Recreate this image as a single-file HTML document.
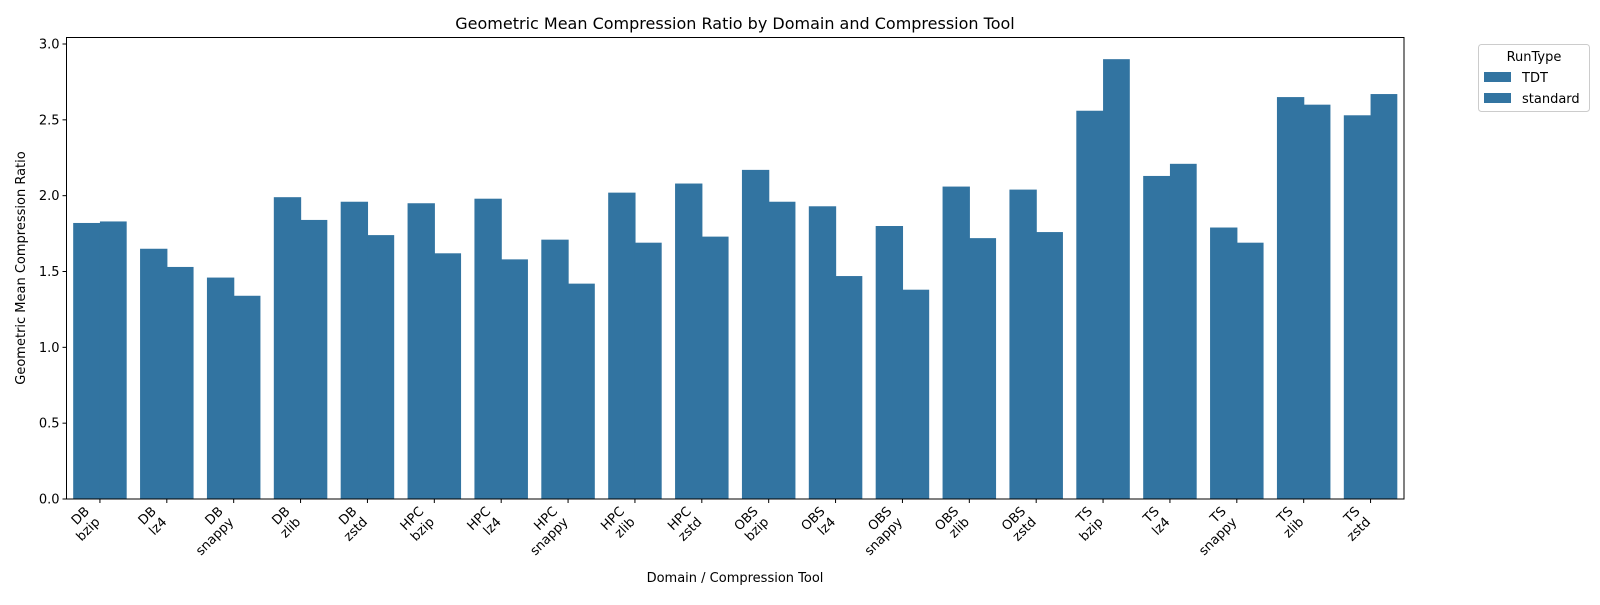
<!DOCTYPE html>
<html><head><meta charset="utf-8"><style>
body{margin:0;background:#fff;font-family:"Liberation Sans","DejaVu Sans",sans-serif;}
svg text{font-family:"DejaVu Sans","Liberation Sans",sans-serif;}
</style></head><body>
<svg id="chart" width="1600" height="600" xmlns="http://www.w3.org/2000/svg">
<rect width="1600" height="600" fill="#fff"/>
<text x="735" y="29" font-size="16" text-anchor="middle">Geometric Mean Compression Ratio by Domain and Compression Tool</text>
<g id="plot"></g>
<text x="735" y="582" font-size="13" text-anchor="middle">Domain / Compression Tool</text>
<text transform="translate(25,268) rotate(-90)" font-size="13" text-anchor="middle">Geometric Mean Compression Ratio</text>
<g>
<rect x="1478.5" y="44.5" width="111" height="67" fill="#fff" stroke="#ccc" rx="3"/>
<text x="1534" y="61" font-size="13" text-anchor="middle">RunType</text>
<rect x="1484" y="72" width="27" height="10" fill="#3274a1"/>
<text x="1522" y="82" font-size="13">TDT</text>
<rect x="1484" y="93" width="27" height="10" fill="#3274a1"/>
<text x="1522" y="103" font-size="13">standard</text>
</g>
</svg>
<script>
const domains=["DB","DB","DB","DB","DB","HPC","HPC","HPC","HPC","HPC","OBS","OBS","OBS","OBS","OBS","TS","TS","TS","TS","TS"];
const tools=["bzip","lz4","snappy","zlib","zstd","bzip","lz4","snappy","zlib","zstd","bzip","lz4","snappy","zlib","zstd","bzip","lz4","snappy","zlib","zstd"];
const tdtValues=[1.82,1.65,1.46,1.99,1.96,1.95,1.98,1.71,2.02,2.08,2.17,1.93,1.80,2.06,2.04,2.56,2.13,1.79,2.65,2.53];
const standardValues=[1.83,1.53,1.34,1.84,1.74,1.62,1.58,1.42,1.69,1.73,1.96,1.47,1.38,1.72,1.76,2.90,2.21,1.69,2.60,2.67];
const yTicks=[0,0.5,1.0,1.5,2.0,2.5,3.0];
const NS="http://www.w3.org/2000/svg";
const L=66.5,R=1404,T=37.5,B=499;
const pxPerUnit=(499-44)/3.0;
const y=v=>B-v*pxPerUnit;
const bw=(R-L)/domains.length;
const x=i=>L+bw*(i+0.5);
const g=document.getElementById('plot');
function mk(tag,attrs){const e=document.createElementNS(NS,tag);for(const k in attrs)e.setAttribute(k,attrs[k]);g.appendChild(e);return e;}
tdtValues.forEach((v,i)=>{
  const r=mk('rect',{x:x(i)-bw*0.4,y:y(v),width:bw*0.4+0.6,height:B-y(v),fill:'#3274a1'});
  
  
});
standardValues.forEach((v,i)=>{
  const r=mk('rect',{x:x(i),y:y(v),width:bw*0.4,height:B-y(v),fill:'#3274a1'});
  
  
});
const frame=mk('rect',{x:L,y:T,width:R-L,height:B-T,fill:'none',stroke:'#000','stroke-width':1});


yTicks.forEach(t=>{
  mk('line',{x1:L-4,x2:L,y1:y(t),y2:y(t),stroke:'#000'});
  const tx=mk('text',{x:L-7,y:y(t)+4.5,'font-size':13,'text-anchor':'end'});
  tx.textContent=t.toFixed(1);
  
  
});
domains.forEach((d,i)=>{
  mk('line',{x1:x(i),x2:x(i),y1:B,y2:B+4,stroke:'#000'});
  const grp=document.createElementNS(NS,'g');
  grp.setAttribute('transform','translate('+(x(i)-17)+','+(B+6)+') rotate(-45)');
  
  
  g.appendChild(grp);
  [d,tools[i]].forEach((s,k)=>{const t=document.createElementNS(NS,'text');t.setAttribute('x',0);t.setAttribute('y',10+k*15);t.setAttribute('font-size',13);t.setAttribute('text-anchor','end');t.textContent=s;grp.appendChild(t);});
});
</script>
</body></html>
